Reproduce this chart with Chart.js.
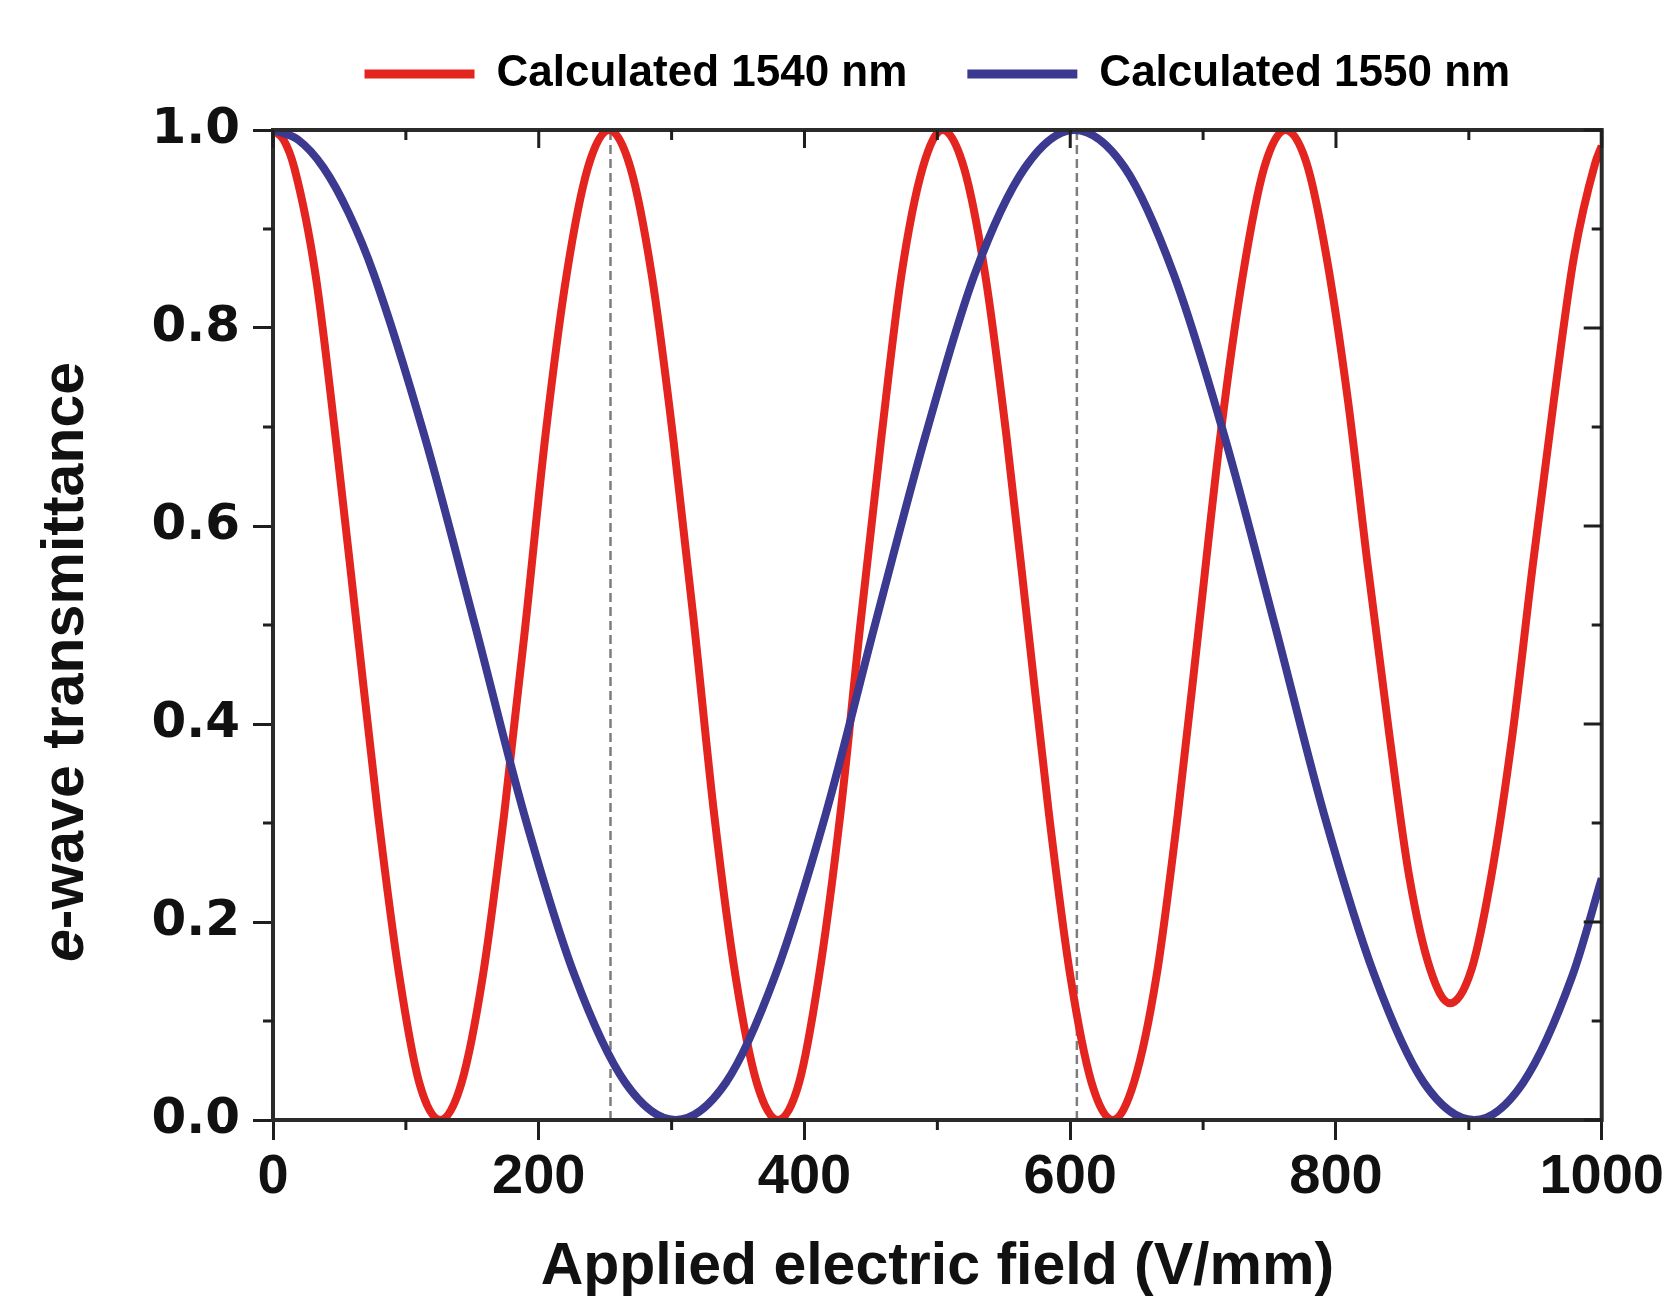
<!DOCTYPE html>
<html>
<head>
<meta charset="utf-8">
<title>e-wave transmittance</title>
<script src="https://cdn.jsdelivr.net/npm/chart.js@4.4.1/dist/chart.umd.min.js"></script>
<style>
  html, body { margin: 0; padding: 0; background: #fff; }
  #wrap { width: 1668px; height: 1315px; }
</style>
</head>
<body>
<div id="wrap"><canvas id="chart" width="1668" height="1315"></canvas></div>
<script>
// values (V/mm -> transmittance)
const field1540 = [0, 8, 16, 32, 47, 63, 79, 95, 110, 126,
  142, 158, 174, 190, 205, 221, 237, 253,
  269, 285, 301, 317, 332, 348, 364, 380,
  396, 411, 427, 442, 458, 473, 489, 504,
  520, 536, 552, 568, 584, 600, 616, 632,
  648, 665, 681, 697, 713, 730, 746, 762,
  778, 793, 809, 824, 840, 855, 871, 886,
  902, 917, 933, 948, 964, 979, 995, 1000];
const trans1540 = [1.000, 0.990, 0.962, 0.854, 0.691, 0.500, 0.309, 0.146, 0.038, 0.000,
  0.038, 0.146, 0.309, 0.500, 0.691, 0.854, 0.962, 1.000,
  0.962, 0.854, 0.691, 0.500, 0.309, 0.146, 0.038, 0.000,
  0.038, 0.146, 0.309, 0.500, 0.691, 0.854, 0.962, 1.000,
  0.962, 0.854, 0.691, 0.500, 0.309, 0.146, 0.038, 0.000,
  0.038, 0.146, 0.309, 0.500, 0.691, 0.854, 0.962, 1.000,
  0.966, 0.871, 0.727, 0.559, 0.391, 0.247, 0.152, 0.118,
  0.152, 0.247, 0.391, 0.559, 0.727, 0.871, 0.966, 0.984];

const field1550 = [0, 19, 38, 57, 76, 114, 152, 189, 227, 265, 303,
  341, 378, 416, 453, 491, 528, 566, 603,
  641, 678, 716, 754, 791, 829, 866, 904,
  941, 978, 1000];
const trans1550 = [1.000, 0.990, 0.962, 0.916, 0.854, 0.691, 0.500, 0.309, 0.146, 0.038, 0.000,
  0.038, 0.146, 0.309, 0.500, 0.691, 0.854, 0.962, 1.000,
  0.962, 0.854, 0.691, 0.500, 0.309, 0.146, 0.038, 0.000,
  0.038, 0.146, 0.244];

const markerFields = [254, 605];   // dashed guide lines
const xMajorTicks = [0, 200, 400, 600, 800, 1000];
const xMinorTicks = [100, 300, 500, 700, 900];
const yMajorTicks = [0, 0.2, 0.4, 0.6, 0.8, 1.0];
const yMinorTicks = [0.1, 0.3, 0.5, 0.7, 0.9];

const seriesNames = ['Calculated 1540 nm', 'Calculated 1550 nm'];
const seriesColors = ['#e3241f', '#3b3990'];
const xTitle = 'Applied electric field (V/mm)';
const yTitleParts = ['e', '-wave transmittance'];

const toPoints = (xs, ys) => xs.map((x, i) => ({ x: x, y: ys[i] }));

// push the plot area down below the legend
const legendGap = {
  id: 'legendGap',
  beforeInit(chart) {
    const fit = chart.legend.fit;
    chart.legend.fit = function () {
      fit.call(this);
      this.height += 24;
    };
  }
};

// box frame, minor ticks, mirrored ticks on top/right
const frameTicks = {
  id: 'frameTicks',
  afterDatasetsDraw(chart) {
    const { ctx, chartArea: a, scales: { x, y } } = chart;
    ctx.save();
    ctx.strokeStyle = '#2b2b2b';
    ctx.lineWidth = 4;
    ctx.strokeRect(a.left, a.top, a.right - a.left, a.bottom - a.top);

    ctx.strokeStyle = '#1e1e1e';
    ctx.lineWidth = 3;
    ctx.beginPath();
    xMinorTicks.forEach(v => {
      const px = x.getPixelForValue(v);
      ctx.moveTo(px, a.bottom); ctx.lineTo(px, a.bottom + 10);
      ctx.moveTo(px, a.top); ctx.lineTo(px, a.top + 10);
    });
    xMajorTicks.forEach(v => {
      const px = x.getPixelForValue(v);
      ctx.moveTo(px, a.top); ctx.lineTo(px, a.top + 18);
    });
    yMinorTicks.forEach(v => {
      const py = y.getPixelForValue(v);
      ctx.moveTo(a.left, py); ctx.lineTo(a.left - 10, py);
      ctx.moveTo(a.right, py); ctx.lineTo(a.right - 10, py);
    });
    yMajorTicks.forEach(v => {
      const py = y.getPixelForValue(v);
      ctx.moveTo(a.right, py); ctx.lineTo(a.right - 18, py);
    });
    ctx.stroke();
    ctx.restore();
  }
};

// y title with an italic "e"
const yTitle = {
  id: 'yTitle',
  afterDraw(chart) {
    const { ctx, chartArea: a } = chart;
    const cx = a.left - 190;
    const cy = (a.top + a.bottom) / 2 + 37;
    const italic = 'italic bold 59px "Liberation Sans", Arial, sans-serif';
    const upright = 'bold 59px "Liberation Sans", Arial, sans-serif';
    ctx.save();
    ctx.translate(cx, cy);
    ctx.rotate(-Math.PI / 2);
    ctx.fillStyle = '#111';
    ctx.textBaseline = 'alphabetic';
    ctx.textAlign = 'left';
    ctx.font = italic;
    const w1 = ctx.measureText(yTitleParts[0]).width;
    ctx.font = upright;
    const w2 = ctx.measureText(yTitleParts[1]).width;
    const x0 = -(w1 + w2) / 2;
    ctx.font = italic;
    ctx.fillText(yTitleParts[0], x0, 0);
    ctx.font = upright;
    ctx.fillText(yTitleParts[1], x0 + w1, 0);
    ctx.restore();
  }
};

const markerSets = markerFields.map(f => ({
  label: 'guide',
  data: [{ x: f, y: 0 }, { x: f, y: 1 }],
  borderColor: '#7d7d7d',
  borderWidth: 2.5,
  borderDash: [9, 5],
  pointRadius: 0,
  order: 5
}));

new Chart(document.getElementById('chart'), {
  type: 'line',
  data: {
    datasets: [
      {
        label: seriesNames[0],
        data: toPoints(field1540, trans1540),
        borderColor: seriesColors[0],
        backgroundColor: seriesColors[0],
        borderWidth: 8,
        pointRadius: 0,
        cubicInterpolationMode: 'monotone',
        order: 1
      },
      {
        label: seriesNames[1],
        data: toPoints(field1550, trans1550),
        borderColor: seriesColors[1],
        backgroundColor: seriesColors[1],
        borderWidth: 8,
        pointRadius: 0,
        cubicInterpolationMode: 'monotone',
        order: 0
      },
      ...markerSets
    ]
  },
  options: {
    responsive: false,
    animation: false,
    layout: { padding: { top: -8, right: 60, bottom: 12, left: 0 } },
    plugins: {
      tooltip: { enabled: false },
      legend: {
        position: 'top',
        fullSize: false,
        labels: {
          boxWidth: 110,
          boxHeight: 9,
          padding: 60,
          color: '#161616',
          font: { family: '"Liberation Sans", Arial, sans-serif', size: 44, weight: 'bold' },
          generateLabels: () => seriesNames.map((t, i) => ({
            text: t,
            fillStyle: seriesColors[i],
            strokeStyle: seriesColors[i],
            lineWidth: 0,
            hidden: false,
            datasetIndex: i
          }))
        }
      }
    },
    scales: {
      x: {
        type: 'linear',
        min: 0,
        max: 1000,
        border: { display: true, color: '#2b2b2b', width: 4 },
        grid: { drawOnChartArea: false, drawTicks: true, tickLength: 20, lineWidth: 3, color: '#1e1e1e' },
        ticks: {
          stepSize: 200,
          padding: 4,
          maxRotation: 0,
          color: '#111',
          callback: v => String(v),
          font: { family: '"Liberation Sans", Arial, sans-serif', size: 56, weight: 'bold' }
        },
        title: {
          display: true,
          text: xTitle,
          color: '#111',
          padding: { top: 0, bottom: 0 },
          font: { family: '"Liberation Sans", Arial, sans-serif', size: 59, weight: 'bold' }
        },
        afterFit(s) { s.height = 183; }
      },
      y: {
        type: 'linear',
        min: 0,
        max: 1,
        border: { display: true, color: '#2b2b2b', width: 4 },
        grid: { drawOnChartArea: false, drawTicks: true, tickLength: 20, lineWidth: 3, color: '#1e1e1e' },
        ticks: {
          stepSize: 0.2,
          padding: 13,
          color: '#111',
          callback: v => v.toFixed(1),
          font: { family: '"DejaVu Sans", sans-serif', size: 50, weight: 'bold' }
        },
        afterFit(s) { s.width = 273; }
      }
    }
  },
  plugins: [legendGap, frameTicks, yTitle]
});
</script>
</body>
</html>
